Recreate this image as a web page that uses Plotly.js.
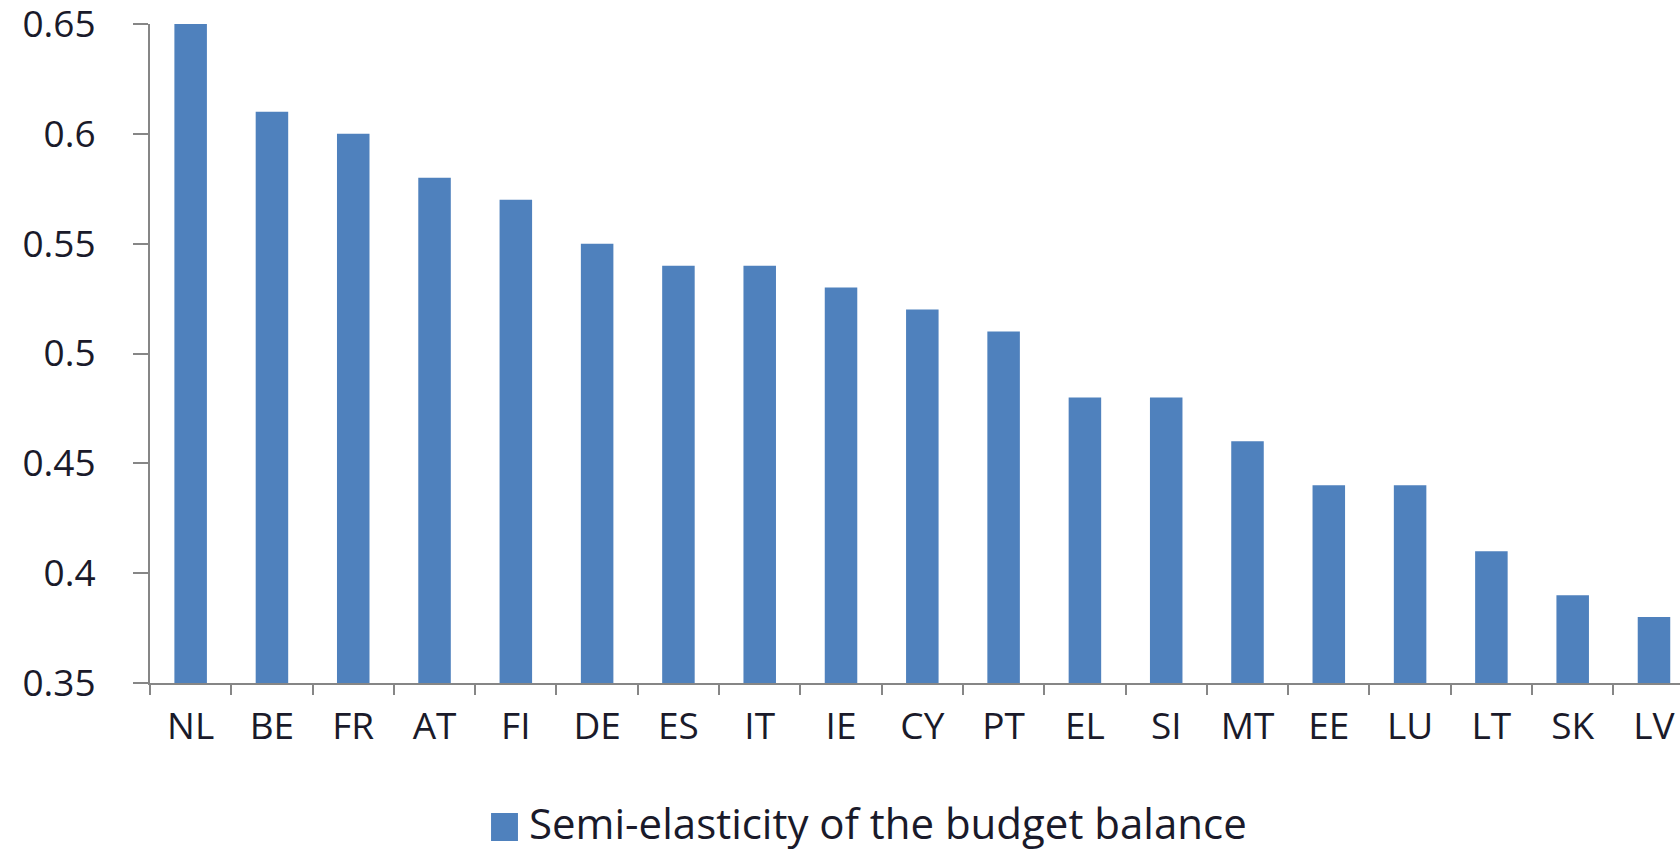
<!DOCTYPE html>
<html>
<head>
<meta charset="utf-8">
<script src="https://cdn.plot.ly/plotly-3.0.1.min.js"></script>
<style>
  html, body { margin: 0; padding: 0; background: #fff; }
  #chart { width: 1680px; height: 849px; }
</style>
</head>
<body>
<div id="chart"></div>
<script>
const countries = ["NL", "BE", "FR", "AT", "FI", "DE", "ES", "IT", "IE", "CY",
                   "PT", "EL", "SI", "MT", "EE", "LU", "LT", "SK", "LV"];
const semiElasticity = [0.65, 0.61, 0.60, 0.58, 0.57, 0.55, 0.54, 0.54, 0.53, 0.52,
                        0.51, 0.48, 0.48, 0.46, 0.44, 0.44, 0.41, 0.39, 0.38];
const yTicks = [0.35, 0.4, 0.45, 0.5, 0.55, 0.6, 0.65];
const yTickText = ["0.35", "0.4", "0.45", "0.5", "0.55", "0.6", "0.65"];
const seriesName = "Semi-elasticity of the budget balance";

const barColor = "#4f81bd";
const axisGrey = "#868686";
const textColor = "#1a1a2a";

// legend drawn by hand so the swatch can be as large as in the original
Plotly.newPlot("chart", [{
  type: "bar",
  x: countries,
  y: semiElasticity,
  name: seriesName,
  marker: { color: barColor },
  width: 0.4,
  showlegend: false
}], {
  width: 1680,
  height: 849,
  paper_bgcolor: "#fff",
  plot_bgcolor: "#fff",
  margin: { l: 150, r: 0, t: 24, b: 166 },
  font: { family: "Open Sans, sans-serif", color: textColor },
  xaxis: {
    type: "category",
    range: [-0.5, 18.32],
    showline: true,
    linecolor: axisGrey,
    linewidth: 2,
    ticks: "outside",
    tickson: "boundaries",
    ticklen: 10,
    tickwidth: 2,
    tickcolor: axisGrey,
    ticklabelstandoff: 10,
    showgrid: false,
    tickfont: { size: 37, color: textColor }
  },
  yaxis: {
    range: [0.35, 0.65],
    tickvals: yTicks,
    ticktext: yTickText,
    ticklabeloverflow: "allow",
    showline: true,
    linecolor: axisGrey,
    linewidth: 2,
    ticks: "outside",
    ticklen: 15,
    tickwidth: 2,
    tickcolor: axisGrey,
    ticklabelstandoff: 30,
    showgrid: false,
    zeroline: false,
    tickfont: { size: 37, color: textColor }
  },
  shapes: [{
    type: "rect", xref: "paper", yref: "paper",
    x0: 0.2229, x1: 0.2405, y0: -0.2398, y1: -0.1973,
    fillcolor: barColor, line: { width: 0 }
  }],
  annotations: [{
    text: seriesName,
    xref: "paper", yref: "paper",
    x: 0.2464, y: -0.211,
    xanchor: "left", yanchor: "middle",
    showarrow: false,
    font: { family: "Open Sans, sans-serif", size: 42, color: textColor }
  }]
}, { displayModeBar: false, responsive: false });
</script>
</body>
</html>
